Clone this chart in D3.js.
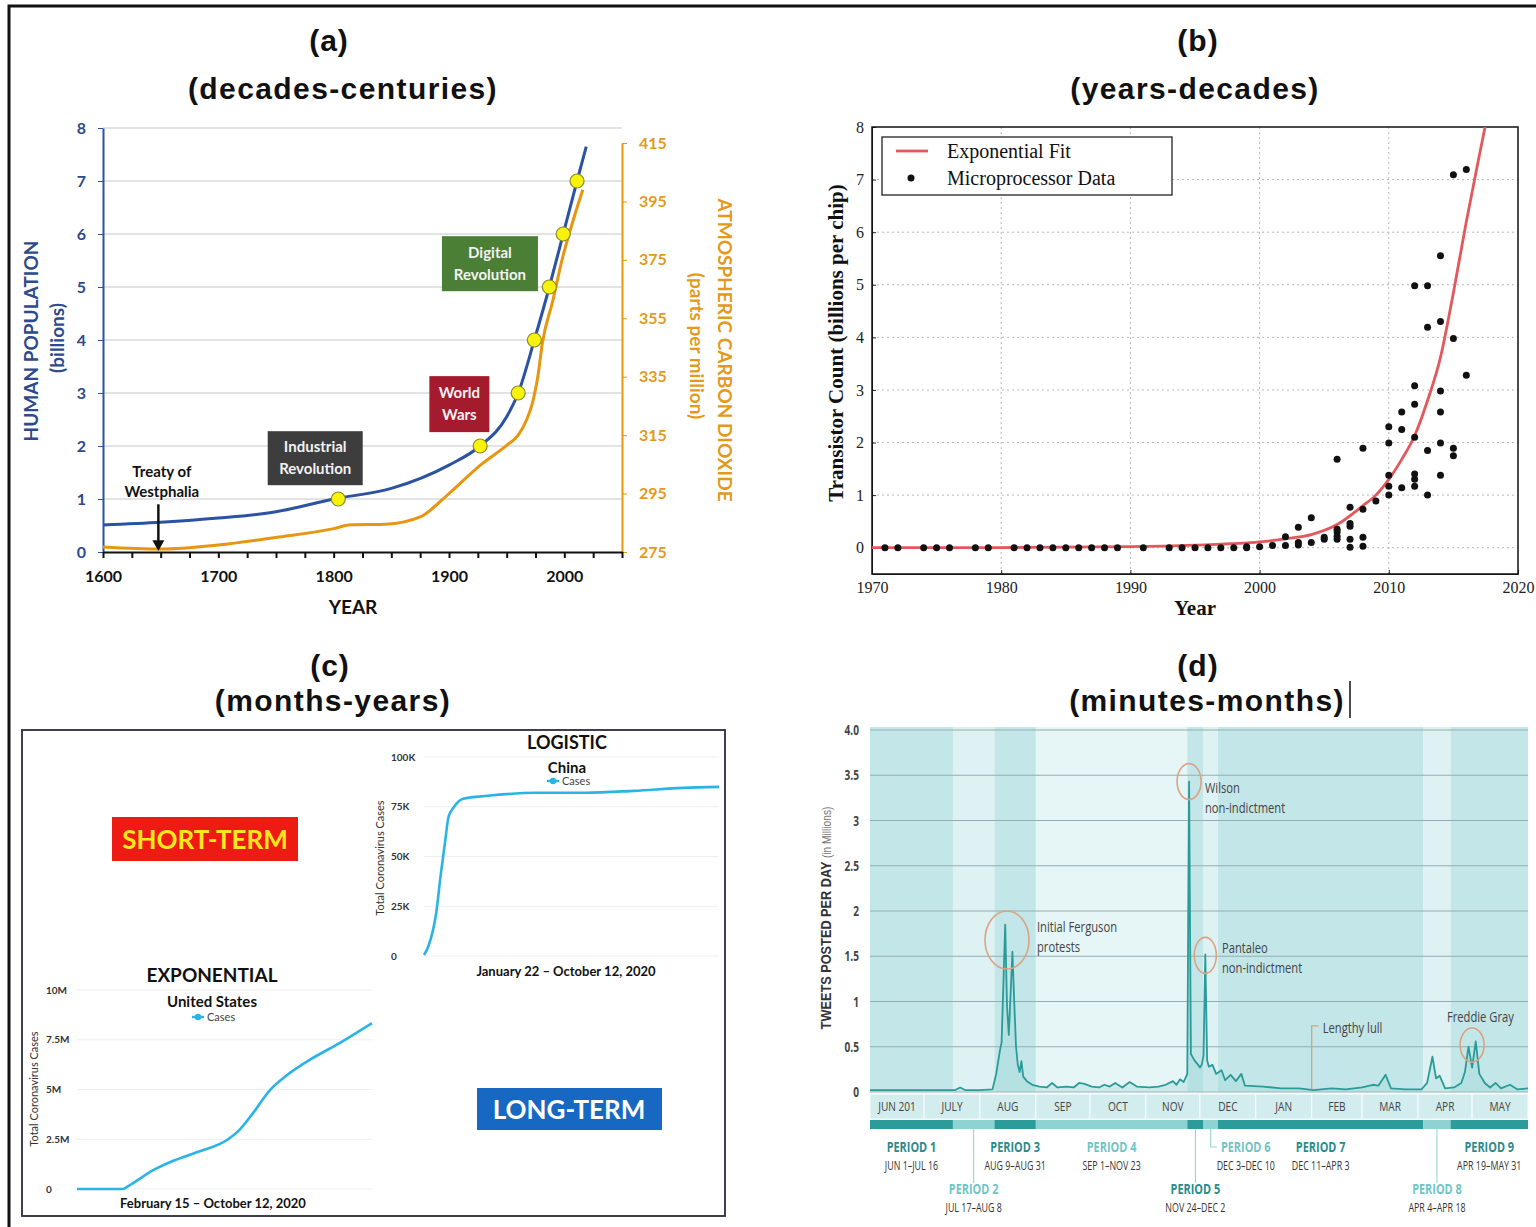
<!DOCTYPE html>
<html>
<head>
<meta charset="utf-8">
<script src="https://cdn.jsdelivr.net/npm/d3@7"></script>
<style>
  html, body { margin: 0; padding: 0; background: #fff; }
  svg { display: block; }
</style>
</head>
<body>
<div id="chart"></div>
<script>
// ---------- titles ----------
const panelLetters = ["(a)", "(b)", "(c)", "(d)"];
const panelSpans = ["(decades-centuries)", "(years-decades)", "(months-years)", "(minutes-months)"];

// ---------- (a) population and CO2 ----------
const popYears = [1600, 1650, 1700, 1750, 1800, 1850, 1900, 1927, 1950, 1960, 1974, 1987, 1999, 2011, 2019];
const popBillions = [0.51, 0.56, 0.64, 0.76, 1.0, 1.2, 1.64, 2.0, 2.55, 3.0, 4.0, 5.0, 6.0, 7.0, 7.65];
const milestoneYears = [1804, 1927, 1960, 1974, 1987, 1999, 2011];
const milestoneBillions = [1, 2, 3, 4, 5, 6, 7];
const co2Years = [1600, 1650, 1700, 1750, 1800, 1815, 1845, 1875, 1900, 1928, 1950, 1960, 1967, 1973, 1977, 1981, 1990, 1998, 2008, 2016];
const co2Ppm = [276.7, 276, 277.4, 280, 283, 284.3, 284.5, 287, 295, 305, 311.5, 315, 320, 327, 335, 346.6, 361, 375, 389, 399];
const popTicks = [0, 1, 2, 3, 4, 5, 6, 7, 8];
const co2Ticks = [275, 295, 315, 335, 355, 375, 395, 415];

// ---------- (b) transistor counts ----------
const chipYears = [1971, 1972, 1974, 1975, 1976, 1978, 1979, 1981, 1982, 1983, 1984, 1985, 1986, 1987, 1988, 1989,
  1991, 1993, 1994, 1995, 1996, 1997, 1998, 1999, 1999, 2000, 2001, 2002, 2002, 2003, 2003, 2003, 2004, 2004,
  2005, 2005, 2006, 2006, 2006, 2006, 2006, 2007, 2007, 2007, 2007, 2007, 2008, 2008, 2008, 2008, 2009,
  2010, 2010, 2010, 2010, 2010, 2011, 2011, 2011, 2012, 2012, 2012, 2012, 2012, 2012, 2012,
  2013, 2013, 2013, 2013, 2014, 2014, 2014, 2014, 2014, 2014, 2015, 2015, 2015, 2015, 2016, 2016];
const chipBillions = [0, 0, 0, 0, 0, 0, 0, 0, 0, 0, 0, 0, 0, 0, 0, 0,
  0, 0, 0, 0, 0, 0, 0, 0, 0.02, 0.02, 0.04, 0.04, 0.21, 0.05, 0.1, 0.39, 0.1, 0.57,
  0.16, 0.2, 0.16, 0.22, 0.3, 0.35, 1.68, 0.01, 0.16, 0.41, 0.46, 0.77, 0.03, 0.2, 0.73, 1.89, 0.89,
  1.0, 1.17, 1.38, 1.99, 2.3, 1.14, 2.25, 2.58, 1.17, 1.3, 1.4, 2.1, 2.73, 3.08, 4.98,
  1.0, 1.85, 4.19, 4.98, 1.38, 1.99, 2.58, 2.98, 4.3, 5.55, 1.75, 1.89, 3.98, 7.09, 3.28, 7.19];
const fitYears = [1970, 1980, 1990, 1995, 2000, 2002, 2004, 2006, 2008, 2009, 2010, 2011, 2012, 2013, 2014, 2015, 2016, 2017, 2017.45];
const fitBillions = [0, 0.003, 0.02, 0.05, 0.11, 0.17, 0.25, 0.44, 0.8, 1.0, 1.3, 1.68, 2.13, 2.8, 3.62, 4.85, 6.2, 7.45, 8.0];
const chipYearTicks = [1970, 1980, 1990, 2000, 2010, 2020];
const chipValueTicks = [0, 1, 2, 3, 4, 5, 6, 7, 8];

// ---------- (c) covid cases ----------
const chinaDates = ["2020-01-22", "2020-01-26", "2020-02-02", "2020-02-06", "2020-02-10", "2020-02-13", "2020-02-18",
  "2020-02-26", "2020-03-19", "2020-05-02", "2020-06-14", "2020-07-28", "2020-09-10", "2020-10-12"];
const chinaCases = [500, 5000, 22000, 41000, 58000, 70000, 75000, 79000, 80500, 82000, 82000, 83000, 84500, 85000];
const chinaTicks = [0, 25000, 50000, 75000, 100000];
const chinaTickLabels = ["0", "25K", "50K", "75K", "100K"];
const usDates = ["2020-02-15", "2020-03-23", "2020-03-29", "2020-04-17", "2020-05-01", "2020-05-23", "2020-06-16",
  "2020-06-26", "2020-07-07", "2020-07-21", "2020-08-04", "2020-08-22", "2020-09-13", "2020-10-12"];
const usCases = [0, 0, 200000, 950000, 1360000, 1860000, 2460000, 2960000, 3800000, 4970000, 5730000, 6480000, 7240000, 8340000];
const usTicks = [0, 2500000, 5000000, 7500000, 10000000];
const usTickLabels = ["0", "2.5M", "5M", "7.5M", "10M"];

// ---------- (d) tweets per day ----------
const tweetDates = ["2014-06-01", "2014-06-20", "2014-07-10", "2014-07-18", "2014-07-21", "2014-07-24", "2014-08-01",
  "2014-08-08", "2014-08-10", "2014-08-12", "2014-08-13", "2014-08-15", "2014-08-16", "2014-08-17", "2014-08-19",
  "2014-08-20", "2014-08-21", "2014-08-22", "2014-08-23", "2014-08-24", "2014-08-25", "2014-08-27", "2014-08-30",
  "2014-09-03", "2014-09-07", "2014-09-10", "2014-09-13", "2014-09-18", "2014-09-22", "2014-09-25", "2014-09-28",
  "2014-10-02", "2014-10-06", "2014-10-09", "2014-10-12", "2014-10-15", "2014-10-19", "2014-10-23", "2014-10-27",
  "2014-11-03", "2014-11-08", "2014-11-12", "2014-11-16", "2014-11-18", "2014-11-20", "2014-11-22", "2014-11-24",
  "2014-11-25", "2014-11-26", "2014-11-28", "2014-11-30", "2014-12-01", "2014-12-02", "2014-12-03", "2014-12-04",
  "2014-12-05", "2014-12-06", "2014-12-08", "2014-12-10", "2014-12-13", "2014-12-15", "2014-12-18", "2014-12-21",
  "2014-12-24", "2014-12-26", "2015-01-05", "2015-01-15", "2015-01-25", "2015-02-02", "2015-02-12", "2015-02-20",
  "2015-03-01", "2015-03-07", "2015-03-10", "2015-03-14", "2015-03-17", "2015-03-25", "2015-04-03", "2015-04-06",
  "2015-04-09", "2015-04-11", "2015-04-13", "2015-04-16", "2015-04-21", "2015-04-25", "2015-04-27", "2015-04-29",
  "2015-05-01", "2015-05-03", "2015-05-05", "2015-05-08", "2015-05-11", "2015-05-14", "2015-05-17", "2015-05-22",
  "2015-05-26", "2015-06-01"];
const tweetMillions = [0.02, 0.02, 0.02, 0.02, 0.05, 0.02, 0.02,
  0.03, 0.2, 0.45, 0.55, 1.85, 0.95, 0.63, 1.55,
  1.0, 0.5, 0.3, 0.22, 0.34, 0.17, 0.12, 0.08,
  0.06, 0.05, 0.1, 0.05, 0.06, 0.05, 0.1, 0.09,
  0.06, 0.05, 0.08, 0.06, 0.1, 0.05, 0.11, 0.06,
  0.05, 0.06, 0.08, 0.12, 0.08, 0.14, 0.11, 0.2,
  3.43, 0.42, 0.35, 0.3, 0.27, 0.3, 0.4, 1.52,
  0.35, 0.28, 0.3, 0.2, 0.24, 0.13, 0.19, 0.12,
  0.2, 0.07, 0.06, 0.04, 0.04, 0.02, 0.04, 0.03,
  0.05, 0.08, 0.07, 0.19, 0.04, 0.03, 0.03, 0.1,
  0.39, 0.15, 0.18, 0.04, 0.05, 0.1, 0.22, 0.5,
  0.27, 0.56, 0.2, 0.1, 0.05, 0.1, 0.04, 0.08,
  0.03, 0.04];
const tweetTicks = [0, 0.5, 1, 1.5, 2, 2.5, 3, 3.5, 4];
const tweetTickLabels = ["0", "0.5", "1", "1.5", "2", "2.5", "3", "3.5", "4.0"];
const monthLabels = ["JUN 201", "JULY", "AUG", "SEP", "OCT", "NOV", "DEC", "JAN", "FEB", "MAR", "APR", "MAY"];
const periodNames = ["PERIOD 1", "PERIOD 2", "PERIOD 3", "PERIOD 4", "PERIOD 5", "PERIOD 6", "PERIOD 7", "PERIOD 8", "PERIOD 9"];
const periodStarts = ["2014-06-01", "2014-07-17", "2014-08-09", "2014-09-01", "2014-11-24", "2014-12-03", "2014-12-11", "2015-04-04", "2015-04-19"];
const periodEnds = ["2014-07-17", "2014-08-09", "2014-09-01", "2014-11-24", "2014-12-03", "2014-12-11", "2015-04-04", "2015-04-19", "2015-06-01"];
const periodRanges = ["JUN 1–JUL 16", "JUL 17–AUG 8", "AUG 9–AUG 31", "SEP 1–NOV 23", "NOV 24–DEC 2", "DEC 3–DEC 10", "DEC 11–APR 3", "APR 4–APR 18", "APR 19–MAY 31"];
const periodRow = [0, 1, 0, 0, 1, 0, 0, 1, 0];

const FONT_SANS = "'Liberation Sans', Arial, sans-serif";
const FONT_CAL = "Lato, 'Open Sans', sans-serif";
const FONT_SERIF = "'Liberation Serif', 'DejaVu Serif', serif";
const FONT_NARROW = "'Liberation Sans Narrow', 'Open Sans', sans-serif";

const W = 1536, H = 1227;
const parseDay = d3.utcParse("%Y-%m-%d");

const svg = d3.select("#chart").append("svg").attr("width", W).attr("height", H);
svg.append("rect").attr("width", W).attr("height", H).attr("fill", "#fff");
// frame edges that show in the reference
svg.append("path").attr("d", "M9,1227V6H1536").attr("fill", "none").attr("stroke", "#111").attr("stroke-width", 3);

// panel titles
const titleX = [[329, 343], [1198, 1195], [330, 333], [1198, 1207]];
const titleY = [[51, 99], [51, 99], [676, 711], [676, 711]];
panelLetters.forEach(function (t, i) {
  svg.append("text").attr("x", titleX[i][0]).attr("y", titleY[i][0]).attr("text-anchor", "middle")
    .style("font", "bold 30px " + FONT_SANS).style("letter-spacing", "1px").attr("fill", "#111").text(t);
  svg.append("text").attr("x", titleX[i][1]).attr("y", titleY[i][1]).attr("text-anchor", "middle")
    .style("font", "bold 30px " + FONT_SANS).style("letter-spacing", "1.4px").attr("fill", "#111").text(panelSpans[i]);
});
// text cursor after (minutes-months)
svg.append("line").attr("x1", 1350).attr("x2", 1350).attr("y1", 681).attr("y2", 718).attr("stroke", "#111").attr("stroke-width", 1.5);

function styleAxis(g, color, font) {
  g.select(".domain").attr("stroke", color);
  g.selectAll(".tick line").attr("stroke", color);
  g.selectAll(".tick text").attr("fill", color).attr("font-family", null).attr("font-size", null).style("font", font);
}

// horizontally squeezed text, for the condensed labels of panel (d)
function narrow(sel, x, y, t, font, fill, anchor, sx) {
  return sel.append("text").attr("transform", `translate(${x},${y}) scale(${sx},1)`)
    .attr("text-anchor", anchor || "start").style("font", font).attr("fill", fill).text(t);
}

// ================= (a) =================
(function () {
  const BLUE = "#2c52a3", BLUE_TXT = "#2d4a8c", ORANGE = "#e8950f";
  const g = svg.append("g");
  const x = d3.scaleLinear().domain([1600, 2050]).range([103, 622]);
  const yPop = d3.scaleLinear().domain([0, 8]).range([552, 128]);
  const yCo2 = d3.scaleLinear().domain([275, 415]).range([552, 143]);

  g.append("g").selectAll("line").data(popTicks.slice(1)).join("line")
    .attr("x1", x(1600)).attr("x2", x(2050))
    .attr("y1", d => yPop(d)).attr("y2", d => yPop(d))
    .attr("stroke", "#dadada").attr("stroke-width", 1.5);

  const axL = g.append("g").attr("transform", `translate(${x(1600)},0)`)
    .call(d3.axisLeft(yPop).tickValues(popTicks).tickSize(5).tickSizeOuter(0).tickPadding(12));
  styleAxis(axL, BLUE, "bold 16px " + FONT_CAL);
  axL.selectAll(".tick text").attr("fill", BLUE_TXT);
  axL.select(".domain").attr("stroke-width", 2);

  const axR = g.append("g").attr("transform", `translate(${x(2050)},0)`)
    .call(d3.axisRight(yCo2).tickValues(co2Ticks).tickSize(5).tickSizeOuter(0).tickPadding(12));
  styleAxis(axR, ORANGE, "bold 16px " + FONT_CAL);
  axR.select(".domain").attr("stroke-width", 2);
  axR.selectAll(".tick text").attr("fill", "#e39a1c");

  const axB = g.append("g").attr("transform", `translate(0,${yPop(0)})`)
    .call(d3.axisBottom(x).tickValues(d3.range(1600, 2051, 25)).tickSize(6).tickSizeOuter(0).tickPadding(13)
      .tickFormat(d => d % 100 === 0 ? d : ""));
  styleAxis(axB, "#111", "bold 16px " + FONT_CAL);
  axB.select(".domain").attr("stroke-width", 2);
  axB.selectAll(".tick line").attr("stroke-width", 2);

  const co2 = co2Years.map((d, i) => [d, co2Ppm[i]]);
  const pop = popYears.map((d, i) => [d, popBillions[i]]);
  g.append("path").datum(co2)
    .attr("d", d3.line().x(d => x(d[0])).y(d => yCo2(d[1])).curve(d3.curveMonotoneX))
    .attr("fill", "none").attr("stroke", ORANGE).attr("stroke-width", 3);
  g.append("path").datum(pop)
    .attr("d", d3.line().x(d => x(d[0])).y(d => yPop(d[1])).curve(d3.curveMonotoneX))
    .attr("fill", "none").attr("stroke", BLUE).attr("stroke-width", 3);

  g.append("g").selectAll("circle").data(milestoneYears).join("circle")
    .attr("cx", d => x(d)).attr("cy", (d, i) => yPop(milestoneBillions[i])).attr("r", 7)
    .attr("fill", "#f6f20c").attr("stroke", "#8d8b2a").attr("stroke-width", 1.2);

  // annotation boxes
  const boxes = [
    { lines: ["Industrial", "Revolution"], year: 1784, val: 1.77, w: 95, h: 54, fill: "#3d3d3d" },
    { lines: ["World", "Wars"], year: 1909, val: 2.79, w: 60, h: 56, fill: "#a51b2e" },
    { lines: ["Digital", "Revolution"], year: 1935.5, val: 5.44, w: 96, h: 55, fill: "#4b7f36" }
  ];
  boxes.forEach(function (b) {
    const cx = x(b.year), cy = yPop(b.val);
    g.append("rect").attr("x", cx - b.w / 2).attr("y", cy - b.h / 2).attr("width", b.w).attr("height", b.h).attr("fill", b.fill);
    b.lines.forEach(function (t, i) {
      g.append("text").attr("x", cx).attr("y", cy - 6 + i * 22).attr("text-anchor", "middle")
        .style("font", "bold 15px " + FONT_CAL).attr("fill", "#f2f2f2").text(t);
    });
  });
  g.append("text").attr("x", x(1651)).attr("y", yPop(1.42)).attr("text-anchor", "middle")
    .style("font", "bold 15px " + FONT_CAL).attr("fill", "#111").text("Treaty of");
  g.append("text").attr("x", x(1651)).attr("y", yPop(1.04)).attr("text-anchor", "middle")
    .style("font", "bold 15px " + FONT_CAL).attr("fill", "#111").text("Westphalia");
  g.append("line").attr("x1", x(1648)).attr("x2", x(1648)).attr("y1", yPop(0.9)).attr("y2", yPop(0.18))
    .attr("stroke", "#111").attr("stroke-width", 2.5);
  g.append("path").attr("d", `M${x(1648) - 6},${yPop(0.22)}L${x(1648) + 6},${yPop(0.22)}L${x(1648)},${yPop(0) - 1}Z`).attr("fill", "#111");

  // axis titles
  g.append("text").attr("transform", "translate(31,341) rotate(-90)").attr("text-anchor", "middle").attr("dy", "0.35em")
    .style("font", "bold 19px " + FONT_CAL).attr("fill", BLUE_TXT).text("HUMAN POPULATION");
  g.append("text").attr("transform", "translate(57,338) rotate(-90)").attr("text-anchor", "middle").attr("dy", "0.35em")
    .style("font", "bold 19px " + FONT_CAL).attr("fill", BLUE_TXT).text("(billions)");
  g.append("text").attr("transform", "translate(725,350) rotate(90)").attr("text-anchor", "middle").attr("dy", "0.35em")
    .style("font", "bold 19px " + FONT_CAL).attr("fill", "#e39a1c").text("ATMOSPHERIC CARBON DIOXIDE");
  g.append("text").attr("transform", "translate(697,346) rotate(90)").attr("text-anchor", "middle").attr("dy", "0.35em")
    .style("font", "bold 19px " + FONT_CAL).attr("fill", "#e39a1c").text("(parts per million)");
  g.append("text").attr("x", 353).attr("y", 614).attr("text-anchor", "middle")
    .style("font", "bold 19px " + FONT_CAL).attr("fill", "#111").text("YEAR");
})();

// ================= (b) =================
(function () {
  const g = svg.append("g");
  const x = d3.scaleLinear().domain([1970, 2020]).range([872, 1518]);
  const y = d3.scaleLinear().domain([-0.5, 8]).range([574, 127]);

  g.append("g").selectAll("line").data(chipYearTicks.slice(1, -1)).join("line")
    .attr("x1", d => x(d)).attr("x2", d => x(d)).attr("y1", y(8)).attr("y2", y(-0.5))
    .attr("stroke", "#b8b8b8").attr("stroke-dasharray", "2,3");
  g.append("g").selectAll("line").data(chipValueTicks.slice(0, -1)).join("line")
    .attr("x1", x(1970)).attr("x2", x(2020)).attr("y1", d => y(d)).attr("y2", d => y(d))
    .attr("stroke", "#b8b8b8").attr("stroke-dasharray", "2,3");

  const axB = g.append("g").attr("transform", `translate(0,${y(-0.5)})`)
    .call(d3.axisBottom(x).tickValues(chipYearTicks).tickSize(-4).tickSizeOuter(0).tickPadding(8).tickFormat(d3.format("d")));
  styleAxis(axB, "#222", "16px " + FONT_SERIF);
  const axL = g.append("g").attr("transform", `translate(${x(1970)},0)`)
    .call(d3.axisLeft(y).tickValues(chipValueTicks).tickSize(-4).tickSizeOuter(0).tickPadding(8));
  styleAxis(axL, "#222", "16px " + FONT_SERIF);

  g.append("rect").attr("x", x(1970)).attr("y", y(8)).attr("width", x(2020) - x(1970)).attr("height", y(-0.5) - y(8))
    .attr("fill", "none").attr("stroke", "#111").attr("stroke-width", 1.5);

  const fit = fitYears.map((d, i) => [d, fitBillions[i]]);
  g.append("path").datum(fit)
    .attr("d", d3.line().x(d => x(d[0])).y(d => y(d[1])).curve(d3.curveMonotoneX))
    .attr("fill", "none").attr("stroke", "#e2585c").attr("stroke-width", 2.8);

  g.append("g").selectAll("circle").data(chipYears).join("circle")
    .attr("cx", d => x(d)).attr("cy", (d, i) => y(chipBillions[i])).attr("r", 3.5).attr("fill", "#111");

  // legend
  g.append("rect").attr("x", 882).attr("y", 137).attr("width", 290).attr("height", 58)
    .attr("fill", "#fff").attr("stroke", "#222").attr("stroke-width", 1.3);
  g.append("line").attr("x1", 896).attr("x2", 928).attr("y1", 151).attr("y2", 151).attr("stroke", "#e2585c").attr("stroke-width", 2.8);
  g.append("circle").attr("cx", 911).attr("cy", 178).attr("r", 3.5).attr("fill", "#111");
  g.append("text").attr("x", 947).attr("y", 158).style("font", "20px " + FONT_SERIF).attr("fill", "#111").text("Exponential Fit");
  g.append("text").attr("x", 947).attr("y", 185).style("font", "20px " + FONT_SERIF).attr("fill", "#111").text("Microprocessor Data");

  g.append("text").attr("x", 1195).attr("y", 615).attr("text-anchor", "middle")
    .style("font", "bold 21px " + FONT_SERIF).attr("fill", "#111").text("Year");
  g.append("text").attr("transform", "translate(836,343) rotate(-90)").attr("text-anchor", "middle").attr("dy", "0.35em")
    .style("font", "bold 21px " + FONT_SERIF).attr("fill", "#111").text("Transistor Count (billions per chip)");
})();

// ================= (c) =================
(function () {
  const LINE = "#2ab4e6";
  const g = svg.append("g");
  g.append("rect").attr("x", 22).attr("y", 730).attr("width", 703).attr("height", 486)
    .attr("fill", "#fff").attr("stroke", "#2b2b3a").attr("stroke-width", 1.8);

  function miniChart(dates, cases, ticks, tickLabels, xr, yr, labelX) {
    const x = d3.scaleUtc().domain([parseDay(dates[0]), parseDay(dates[dates.length - 1])]).range(xr);
    const y = d3.scaleLinear().domain([ticks[0], ticks[ticks.length - 1]]).range(yr);
    g.append("g").selectAll("line").data(ticks).join("line")
      .attr("x1", xr[0]).attr("x2", xr[1]).attr("y1", d => y(d)).attr("y2", d => y(d))
      .attr("stroke", "#eeeeee").attr("stroke-width", 1);
    g.append("g").selectAll("text").data(ticks).join("text")
      .attr("x", labelX).attr("y", d => y(d)).attr("dy", "0.35em")
      .style("font", "bold 10px " + FONT_CAL).attr("fill", "#333").text((d, i) => tickLabels[i]);
    const pts = dates.map((d, i) => [parseDay(d), cases[i]]);
    g.append("path").datum(pts)
      .attr("d", d3.line().x(d => x(d[0])).y(d => y(d[1])).curve(d3.curveMonotoneX))
      .attr("fill", "none").attr("stroke", LINE).attr("stroke-width", 2.6);
  }
  function legend(cx, cy) {
    g.append("line").attr("x1", cx - 20).attr("x2", cx - 8).attr("y1", cy - 3).attr("y2", cy - 3).attr("stroke", LINE).attr("stroke-width", 2.5);
    g.append("circle").attr("cx", cx - 14).attr("cy", cy - 3).attr("r", 3.2).attr("fill", LINE);
    g.append("text").attr("x", cx - 5).attr("y", cy + 1).style("font", "11px " + FONT_CAL).attr("fill", "#444").text("Cases");
  }
  function label(x, y, t, font, fill) {
    g.append("text").attr("x", x).attr("y", y).attr("text-anchor", "middle").style("font", font).attr("fill", fill || "#111").text(t);
  }

  // logistic - China
  miniChart(chinaDates, chinaCases, chinaTicks, chinaTickLabels, [424, 719], [956, 757], 391);
  label(567, 749, "LOGISTIC", "bold 18px " + FONT_CAL);
  label(567, 773, "China", "bold 15px " + FONT_CAL);
  legend(567, 784);
  label(566, 976, "January 22 – October 12, 2020", "bold 13px " + FONT_CAL);
  g.append("text").attr("transform", "translate(380,858) rotate(-90)").attr("text-anchor", "middle").attr("dy", "0.35em")
    .style("font", "11px " + FONT_CAL).attr("fill", "#333").text("Total Coronavirus Cases");

  // exponential - United States
  miniChart(usDates, usCases, usTicks, usTickLabels, [77, 372], [1189, 990], 46);
  label(212, 982, "EXPONENTIAL", "bold 19px " + FONT_CAL);
  label(212, 1007, "United States", "bold 15px " + FONT_CAL);
  legend(212, 1020);
  label(213, 1208, "February 15 – October 12, 2020", "bold 13px " + FONT_CAL);
  g.append("text").attr("transform", "translate(34,1089) rotate(-90)").attr("text-anchor", "middle").attr("dy", "0.35em")
    .style("font", "11px " + FONT_CAL).attr("fill", "#333").text("Total Coronavirus Cases");

  // term tags
  g.append("rect").attr("x", 112).attr("y", 817).attr("width", 186).attr("height", 44).attr("fill", "#ee1a14");
  label(205, 849, "SHORT-TERM", "bold 26px " + FONT_CAL, "#ffe81a");
  g.append("rect").attr("x", 477).attr("y", 1088).attr("width", 185).attr("height", 42).attr("fill", "#1768c2");
  label(569, 1119, "LONG-TERM", "bold 26px " + FONT_CAL, "#fff");
})();

// ================= (d) =================
(function () {
  const TEAL = "#2a9b98";
  const g = svg.append("g");
  const x = d3.scaleUtc().domain([parseDay("2014-06-01"), parseDay("2015-06-01")]).range([870, 1528]);
  const y = d3.scaleLinear().domain([0, 4]).range([1092, 730]);

  // period shading behind the plot
  g.append("g").selectAll("rect").data(periodNames).join("rect")
    .attr("x", (d, i) => x(parseDay(periodStarts[i]))).attr("y", y(4) - 3)
    .attr("width", (d, i) => x(parseDay(periodEnds[i])) - x(parseDay(periodStarts[i])))
    .attr("height", y(0) - y(4) + 3)
    .attr("fill", (d, i) => i % 2 === 0 ? "#c3e6e9" : (i === 3 ? "#e6f5f6" : "#dff2f3"));

  g.append("g").selectAll("line").data(tweetTicks).join("line")
    .attr("x1", x.range()[0]).attr("x2", x.range()[1]).attr("y1", d => y(d)).attr("y2", d => y(d))
    .attr("stroke", "#93aeb0").attr("stroke-width", 1.2);
  tweetTicks.forEach(function (d, i) {
    narrow(g, 859, y(d) + 5, tweetTickLabels[i], "bold 14px " + FONT_NARROW, "#444", "end", 0.72);
  });

  const yl = g.append("text").attr("transform", "translate(826,918) rotate(-90) scale(0.85,1)").attr("text-anchor", "middle").attr("dy", "0.35em")
    .style("font", "15px " + FONT_SANS).attr("fill", "#333");
  yl.append("tspan").attr("font-weight", "bold").text("TWEETS POSTED PER DAY ");
  yl.append("tspan").attr("font-size", "12px").attr("fill", "#777").text("(in Millions)");

  const pts = tweetDates.map((d, i) => [parseDay(d), tweetMillions[i]]);
  g.append("path").datum(pts)
    .attr("d", d3.area().x(d => x(d[0])).y0(y(0)).y1(d => y(d[1])))
    .attr("fill", "#9fd6d6").attr("opacity", 0.35);
  g.append("path").datum(pts)
    .attr("d", d3.line().x(d => x(d[0])).y(d => y(d[1])))
    .attr("fill", "none").attr("stroke", TEAL).attr("stroke-width", 1.8).attr("stroke-linejoin", "round");

  // month band
  const months = d3.utcMonths(parseDay("2014-06-01"), parseDay("2015-06-01"));
  const band = g.append("g");
  band.selectAll("rect").data(months).join("rect")
    .attr("x", d => x(d)).attr("y", 1094).attr("width", d => x(d3.utcMonth.offset(d, 1)) - x(d)).attr("height", 25)
    .attr("fill", "#d3ecee").attr("stroke", "#f4fafa").attr("stroke-width", 1.2);
  months.forEach(function (d, i) {
    narrow(band, (x(d) + x(d3.utcMonth.offset(d, 1))) / 2, 1111, monthLabels[i], "13px " + FONT_NARROW, "#444", "middle", 0.78);
  });

  // period bar and labels
  g.append("g").selectAll("rect").data(periodNames).join("rect")
    .attr("x", (d, i) => x(parseDay(periodStarts[i]))).attr("y", 1120)
    .attr("width", (d, i) => x(parseDay(periodEnds[i])) - x(parseDay(periodStarts[i]))).attr("height", 9)
    .attr("fill", (d, i) => i % 2 === 0 ? "#2c9c9a" : "#8fd2d2");
  periodNames.forEach(function (name, i) {
    const mid = (x(parseDay(periodStarts[i])) + x(parseDay(periodEnds[i]))) / 2;
    const col = (i % 2 === 0) ? "#2a8c8d" : "#6fc5c6";
    let tx = mid;
    const top = periodRow[i] === 0 ? 1152 : 1194;
    if (periodRow[i] === 1) {
      g.append("line").attr("x1", mid).attr("x2", mid).attr("y1", 1129).attr("y2", 1183).attr("stroke", "#8fcfd0").attr("stroke-width", 1);
    }
    if (name === "PERIOD 6") {
      g.append("path").attr("d", `M${mid},1129V1147H${mid + 6}`).attr("fill", "none").attr("stroke", "#8fcfd0").attr("stroke-width", 1);
      tx = mid + 35;
    }
    narrow(g, tx, top, name, "bold 14px " + FONT_NARROW, col, "middle", 0.78);
    narrow(g, tx, top + 18, periodRanges[i], "12px " + FONT_NARROW, "#333", "middle", 0.74);
  });

  // event annotations
  const events = [
    { date: "2014-08-16", val: 1.68, rx: 22, ry: 29, text: ["Initial Ferguson", "protests"], tx: 1037, ty: 932 },
    { date: "2014-11-25", val: 3.43, rx: 12, ry: 18, text: ["Wilson", "non-indictment"], tx: 1205, ty: 793 },
    { date: "2014-12-04", val: 1.51, rx: 11, ry: 18, text: ["Pantaleo", "non-indictment"], tx: 1222, ty: 953 },
    { date: "2015-05-01", val: 0.52, rx: 12, ry: 17, text: ["Freddie Gray"], tx: 1447, ty: 1022 }
  ];
  events.forEach(function (e) {
    g.append("ellipse").attr("cx", x(parseDay(e.date))).attr("cy", y(e.val)).attr("rx", e.rx).attr("ry", e.ry)
      .attr("fill", "none").attr("stroke", "#dca284").attr("stroke-width", 1.6);
    e.text.forEach(function (t, i) {
      narrow(g, e.tx, e.ty + i * 20, t, "14px " + FONT_NARROW, "#444", "start", 0.8);
    });
  });
  const lull = x(parseDay("2015-02-01"));
  g.append("path").attr("d", `M${lull},${y(0.03)}V${y(0.73)}H${lull + 7}`).attr("fill", "none").attr("stroke", "#d9a07e").attr("stroke-width", 1.3);
  narrow(g, lull + 11, y(0.65), "Lengthy lull", "14px " + FONT_NARROW, "#444", "start", 0.8);
})();
</script>
</body>
</html>
